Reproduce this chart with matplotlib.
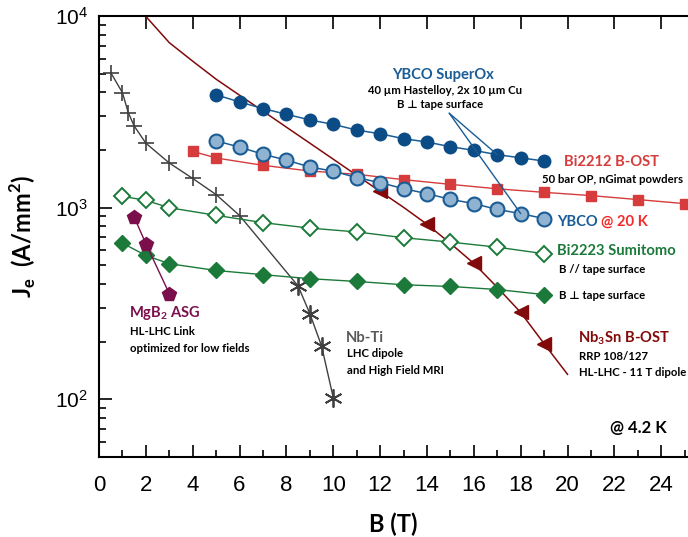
import numpy as np
import matplotlib
matplotlib.use("Agg")
import matplotlib.pyplot as plt
from matplotlib.ticker import MultipleLocator, LogLocator, NullFormatter

# ---- data (B in T, Je in A/mm^2) ----
nbti_b = [0.5, 1.0, 1.25, 1.5, 2.0, 3.0, 4.0, 5.0, 6.0]
nbti_j = [5070, 3980, 3130, 2670, 2170, 1710, 1420, 1170, 910]
nbti_hi_b = [8.5, 9.0, 9.5, 10.0]
nbti_hi_j = [390, 280, 190, 102]

nb3sn_b = [2, 3, 4, 5, 6, 7, 8, 9, 10, 11, 12, 13, 14, 15, 16, 17, 18, 19, 20]
nb3sn_j = [9950, 7260, 5810, 4680, 3860, 3190, 2630, 2170, 1790, 1475, 1216,
           1004, 819, 651, 512, 384, 284, 195, 135]
nb3sn_mark_b = [12, 14, 16, 18, 19]
nb3sn_mark_j = [1216, 819, 512, 284, 195]

ybco_b = [5, 6, 7, 8, 9, 10, 11, 12, 13, 14, 15, 16, 17, 18, 19]
ybco_j = [3880, 3560, 3290, 3070, 2870, 2720, 2540, 2430, 2290, 2200, 2080,
          1990, 1890, 1820, 1750]
ybco20_j = [2230, 2070, 1900, 1770, 1630, 1550, 1435, 1350, 1257, 1183, 1105,
            1050, 979, 931, 877]

bi2212_b = [4, 5, 7, 9, 11, 13, 15, 17, 19, 21, 23, 25]
bi2212_j = [1968, 1816, 1663, 1553, 1493, 1400, 1323, 1254, 1202, 1156, 1102, 1050]

bi2223_b = [1, 2, 3, 5, 7, 9, 11, 13, 15, 17, 19]
bi2223_par_j = [1146, 1092, 999, 912, 835, 782, 747, 697, 661, 622, 575]
bi2223_perp_j = [653, 563, 510, 470, 447, 426, 412, 396, 388, 374, 352]

mgb2_b = [1.5, 2.0, 3.0]
mgb2_j = [893, 649, 356]

# ---- colours ----
c_nbti = "#404040"
c_nb3sn = "#820a0a"
c_ybco = "#1a5c96"
c_ybco_dark = "#0b4c86"
c_ybco_light = "#8fb3d0"
c_bi2212 = "#d63c3c"
c_bi2223 = "#1b7a3a"
c_mgb2 = "#7a0f4b"

lab = ["Lato", "DejaVu Sans"]
big = 10.6
small = 8.2

fig = plt.figure(figsize=(6.88, 5.37), dpi=100)
ax = fig.add_axes([99 / 688, 80 / 537, 588 / 688, 441 / 537])

ax.plot(nbti_b + nbti_hi_b, nbti_j + nbti_hi_j, color=c_nbti, lw=1.0, zorder=2)
ax.plot(nbti_b, nbti_j, ls="none", marker="+", ms=12, mew=1.2, color=c_nbti, zorder=3)
ax.plot(nbti_hi_b, nbti_hi_j, ls="none", marker=(6, 2, 0), ms=13, mew=1.3,
        color=c_nbti, zorder=3)

ax.plot(nb3sn_b, nb3sn_j, color=c_nb3sn, lw=1.1, zorder=2)
ax.plot(nb3sn_mark_b, nb3sn_mark_j, ls="none", marker="<", ms=10, color=c_nb3sn, zorder=3)

ax.plot(ybco_b, ybco_j, color=c_ybco, lw=1.1, marker="o", ms=9,
        mfc=c_ybco_dark, mec=c_ybco_dark, zorder=3)
ax.plot(ybco_b, ybco20_j, color=c_ybco, lw=1.1, marker="o", ms=10,
        mfc=c_ybco_light, mec=c_ybco, mew=1.5, zorder=3)

ax.plot(bi2212_b, bi2212_j, color=c_bi2212, lw=1.0, marker="s", ms=7.5,
        mfc=c_bi2212, mec=c_bi2212, zorder=2)

ax.plot(bi2223_b, bi2223_par_j, color=c_bi2223, lw=1.0, marker="D", ms=8,
        mfc="white", mec=c_bi2223, mew=1.4, zorder=3)
ax.plot(bi2223_b, bi2223_perp_j, color=c_bi2223, lw=1.0, marker="D", ms=8,
        mfc=c_bi2223, mec=c_bi2223, zorder=3)

ax.plot(mgb2_b, mgb2_j, color=c_mgb2, lw=1.0, marker="p", ms=10,
        mfc=c_mgb2, mec=c_mgb2, zorder=3)

# pointer lines from the SuperOx label
ax.annotate("", xy=(17, 1890), xytext=(14.95, 3110),
            arrowprops=dict(arrowstyle="-", color=c_ybco, lw=1.0, shrinkA=0, shrinkB=0))
ax.annotate("", xy=(18, 931), xytext=(14.95, 3110),
            arrowprops=dict(arrowstyle="-", color=c_ybco, lw=1.0, shrinkA=0, shrinkB=0))

# ---- axes ----
ax.set_yscale("log")
ax.set_xlim(0, 25.1)
ax.set_ylim(50, 10000)
ax.xaxis.set_major_locator(MultipleLocator(2))
ax.xaxis.set_minor_locator(MultipleLocator(1))
ax.yaxis.set_minor_locator(LogLocator(base=10, subs=np.arange(2, 10)))
ax.yaxis.set_minor_formatter(NullFormatter())
ax.spines["right"].set_visible(False)
for s in ["left", "bottom", "top"]:
    ax.spines[s].set_linewidth(1.5)
ax.tick_params(which="both", direction="in", width=1.2)
ax.tick_params(which="major", length=9)
ax.tick_params(which="minor", length=5)
ax.tick_params(axis="x", which="major", top=True, pad=13)
ax.tick_params(axis="y", pad=8)
for t in ax.get_xticklabels():
    t.set_fontfamily("Liberation Sans")
    t.set_fontsize(16)
for t in ax.get_yticklabels():
    t.set_fontfamily("Liberation Sans")
    t.set_fontsize(15)

ax.set_xlabel("B (T)", fontfamily=lab, fontweight="bold", fontsize=17, labelpad=12)
ax.set_ylabel(r"J$_\mathdefault{e}$  (A/mm$^\mathdefault{2}$)", fontfamily=lab,
              fontweight="bold", fontsize=17, labelpad=12)

tr = ax.transAxes


def note(x, y, s, color="black", size=small, ha="left"):
    ax.text(x, y, s, transform=tr, color=color, fontsize=size, fontfamily=lab,
            fontweight="bold", ha=ha, va="center")


note(0.585, 0.866, "YBCO SuperOx", c_ybco, big, "center")
note(0.588, 0.832, "40 \u00b5m Hastelloy, 2x 10 \u00b5m Cu", ha="center")
note(0.580, 0.800, "B \u22a5 tape surface", ha="center")

note(0.872, 0.670, "Bi2212 B-OST", c_bi2212, big, "center")
note(0.873, 0.630, "50 bar OP, nGimat powders", ha="center")

note(0.779, 0.534, "YBCO", c_ybco, big)
note(0.853, 0.534, "@ 20 K", "#f52a2a", big)

note(0.779, 0.467, "Bi2223 Sumitomo", c_bi2223, big)
note(0.782, 0.426, "B // tape surface")
note(0.782, 0.367, "B \u22a5 tape surface")

note(0.815, 0.270, r"Nb$_\mathdefault{3}$Sn B-OST", c_nb3sn, big)
note(0.817, 0.229, "RRP 108/127")
note(0.817, 0.191, "HL-LHC - 11 T dipole")

note(0.869, 0.065, "@ 4.2 K", size=12)

note(0.051, 0.326, r"MgB$_\mathdefault{2}$ ASG", c_mgb2, big)
note(0.053, 0.284, "HL-LHC Link")
note(0.053, 0.246, "optimized for low fields")

note(0.420, 0.270, "Nb-Ti", "#595959", big)
note(0.421, 0.234, "LHC dipole")
note(0.421, 0.196, "and High Field MRI")

fig.savefig("out.png", dpi=100)
